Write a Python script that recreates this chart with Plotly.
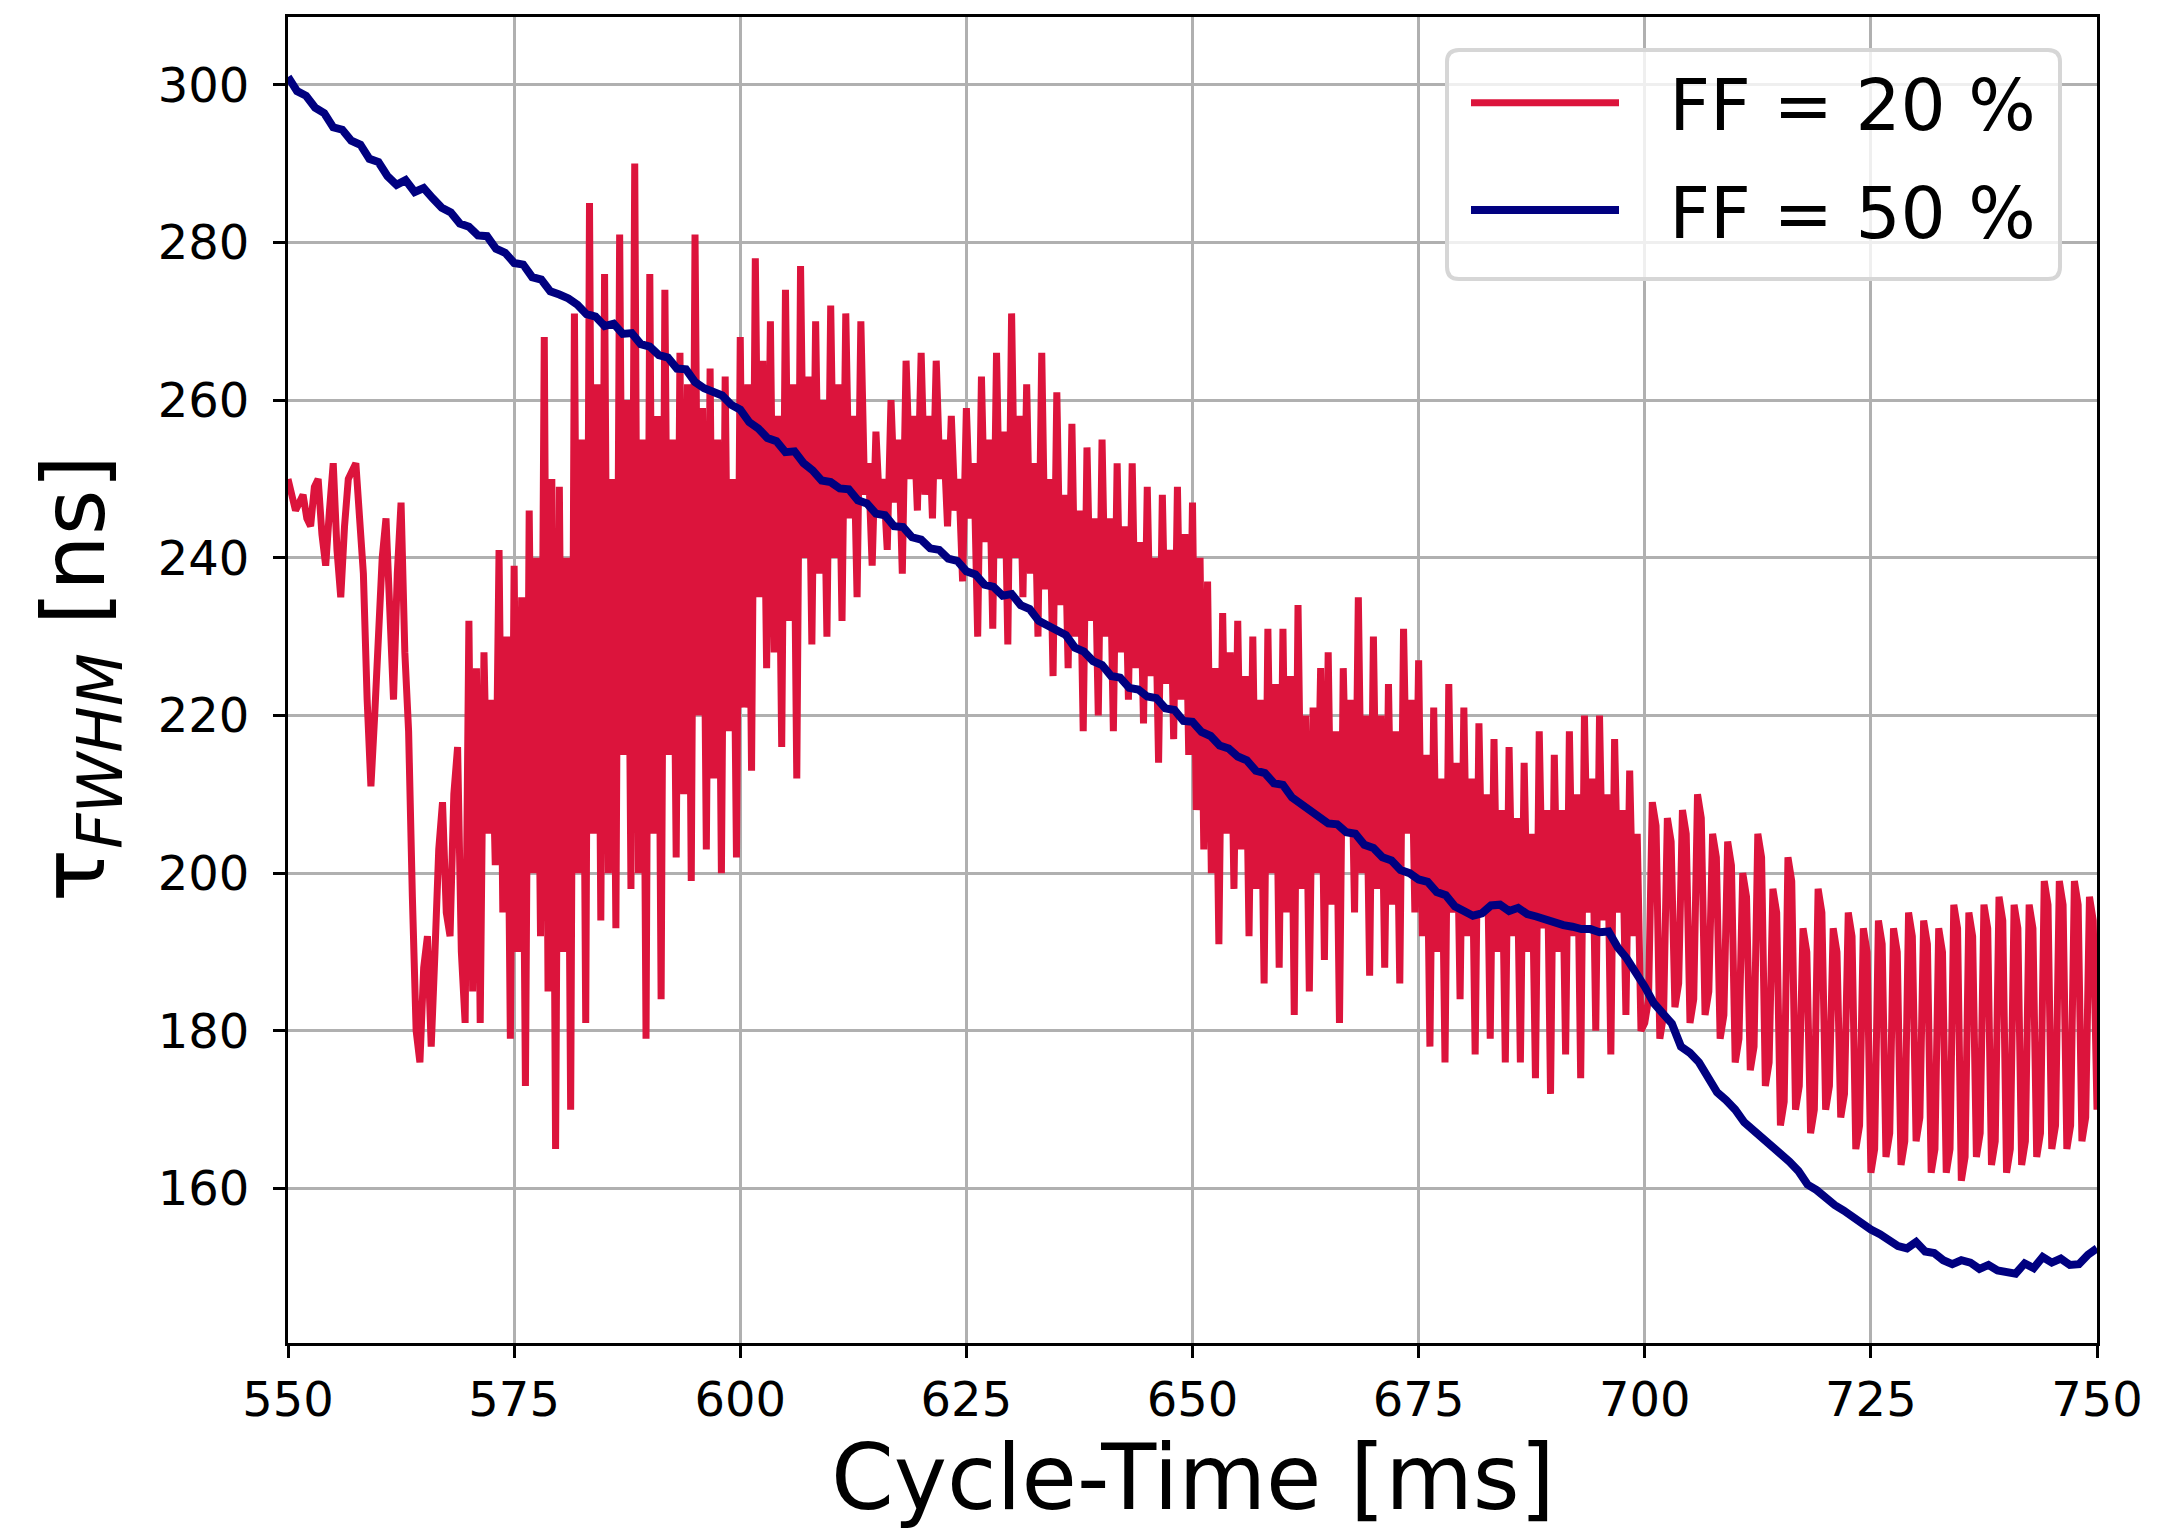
import numpy as np
import plotly.graph_objects as go

# FF = 50 % : one sample per ms, 550..750 ms
ff50_values = [
    301.0, 299.2, 298.6, 297.1, 296.4, 294.6, 294.3, 292.9, 292.4, 290.6,
    290.2, 288.4, 287.3, 287.9, 286.4, 286.9, 285.6, 284.4, 283.8, 282.4,
    282.0, 280.9, 280.8, 279.2, 278.7, 277.4, 277.2, 275.6, 275.3, 273.8,
    273.4, 272.9, 272.1, 270.9, 270.6, 269.4, 269.7, 268.4, 268.5, 267.1,
    266.8, 265.7, 265.4, 264.0, 263.9, 262.3, 261.5, 261.0, 260.6, 259.4,
    258.8, 257.2, 256.4, 255.2, 254.8, 253.4, 253.5, 252.0, 251.1, 249.8,
    249.6, 248.8, 248.7, 247.3, 246.9, 245.6, 245.4, 244.0, 243.9, 242.6,
    242.3, 241.2, 241.0, 239.9, 239.6, 238.3, 237.9, 236.6, 236.3, 235.2,
    235.4, 234.0, 233.5, 232.0, 231.4, 230.6, 230.2, 228.6, 228.1, 226.9,
    226.4, 225.0, 224.8, 223.5, 223.3, 222.4, 222.2, 220.9, 220.7, 219.3,
    219.2, 217.9, 217.4, 216.2, 215.8, 214.8, 214.3, 213.0, 212.7, 211.4,
    211.2, 209.6, 208.8, 207.9, 207.2, 206.3, 206.2, 205.2, 205.0, 203.6,
    203.2, 202.0, 201.6, 200.4, 200.0, 199.2, 198.9, 197.6, 197.2, 195.8,
    195.2, 194.6, 194.9, 195.9, 196.0, 195.2, 195.6, 194.8, 194.5, 194.1,
    193.9, 193.4, 193.2, 192.9, 192.9, 192.5, 192.6, 190.6, 189.2, 187.6,
    185.6, 183.5, 182.1, 180.9, 178.0, 177.2, 176.0, 174.3, 172.2, 171.2,
    170.0, 168.4, 167.4, 166.6, 165.4, 164.4, 163.4, 162.2, 160.5, 159.8,
    158.8, 157.9, 157.2, 156.4, 155.4, 154.8, 154.2, 153.4, 152.7, 152.4,
    153.2, 152.0, 151.8, 150.9, 150.4, 150.9, 150.6, 149.8, 150.3, 149.6,
    149.5, 149.2, 150.5, 149.9, 151.3, 150.6, 151.1, 150.3, 150.4, 151.6,
    152.4,
]

# FF = 20 % : 24 samples per 10 ms, 550..750 ms
ff20_values = [
    250, 248, 246, 247, 248, 245, 244, 249, 250, 243, 239, 246, 252, 241, 235, 244, 250, 251, 252, 245, 238, 222, 211, 220,
    233, 240, 245, 230, 222, 238, 247, 228, 218, 197, 180, 176, 188, 192, 178, 190, 203, 209, 195, 192, 210, 216, 190, 181,
    232, 185, 226, 181, 228, 205, 222, 201, 241, 195, 230, 179, 239, 190, 235, 173, 246, 200, 240, 192, 268, 185, 250, 165,
    249, 190, 240, 170, 271, 200, 255, 181, 285, 205, 262, 194, 276, 200, 250, 193, 281, 215, 260, 198, 290, 200, 255, 179,
    276, 205, 258, 184, 274, 215, 255, 202, 266, 210, 262, 199, 281, 220, 259, 203, 264, 212, 255, 200, 263, 218, 250, 202,
    268, 221, 262, 213, 278, 235, 265, 226, 270, 228, 258, 216, 274, 232, 262, 212, 277, 240, 263, 229, 270, 238, 260, 230,
    272, 240, 262, 232, 271, 245, 258, 235, 270, 248, 252, 239, 256, 246, 250, 241, 260, 247, 255, 238, 265, 250, 258, 246,
    266, 248, 258, 245, 265, 250, 255, 244, 258, 246, 250, 237, 259, 245, 252, 230, 263, 242, 255, 231, 266, 240, 256, 229,
    271, 240, 258, 235, 262, 238, 252, 230, 266, 236, 250, 225, 261, 234, 248, 226, 257, 230, 246, 218, 254, 232, 245, 220,
    255, 230, 245, 218, 252, 228, 244, 222, 252, 226, 242, 219, 249, 225, 240, 214, 248, 224, 241, 217, 249, 222, 243, 215,
    247, 208, 240, 203, 237, 200, 226, 191, 233, 205, 228, 198, 232, 203, 225, 192, 230, 198, 222, 186, 231, 200, 224, 188,
    231, 195, 225, 182, 234, 198, 220, 185, 221, 200, 226, 189, 228, 196, 218, 181, 226, 205, 222, 195, 235, 200, 220, 187,
    230, 198, 220, 188, 224, 196, 218, 186, 231, 205, 222, 195, 227, 192, 215, 178, 221, 190, 212, 176, 224, 195, 214, 184,
    221, 192, 212, 177, 219, 195, 210, 179, 217, 190, 208, 176, 216, 192, 207, 176, 214, 190, 205, 174, 218, 193, 208, 172,
    215, 190, 208, 177, 218, 192, 210, 174, 220, 195, 212, 180, 220, 194, 210, 177, 217, 195, 208, 182, 213, 192, 205, 180,
    181, 184, 209, 206, 179, 182, 207, 204, 183, 186, 208, 205, 181, 184, 210, 207, 182, 185, 205, 202, 179, 182, 204, 201,
    176, 179, 200, 197, 175, 178, 205, 202, 173, 176, 198, 195, 168, 171, 202, 199, 170, 173, 193, 190, 167, 170, 198, 195,
    170, 173, 193, 190, 169, 172, 195, 192, 165, 168, 193, 190, 162, 165, 194, 191, 164, 167, 193, 190, 163, 166, 195, 192,
    166, 169, 194, 191, 162, 165, 193, 190, 162, 165, 196, 193, 161, 164, 195, 192, 164, 167, 196, 193, 163, 166, 197, 194,
    162, 165, 196, 193, 163, 166, 196, 193, 164, 167, 199, 196, 165, 168, 199, 196, 165, 168, 199, 196, 166, 169, 197, 194,
    170,
]

x_ticks = [550, 575, 600, 625, 650, 675, 700, 725, 750]
y_ticks = [160, 180, 200, 220, 240, 260, 280, 300]

t50 = np.linspace(550, 750, len(ff50_values))
t20 = np.linspace(550, 750, len(ff20_values))

RED = "#DC143C"
NAVY = "#000080"
FONT = "DejaVu Sans"
NB = "\u00a0"

W, H = 2182, 1530
ML, MR, MT, MB = 288, 85, 17, 187
PW, PH = W - ML - MR, H - MT - MB


def px_x(p):
    return (p - ML) / PW


def px_y(p):
    return (H - MB - p) / PH


fig = go.Figure()
fig.add_trace(go.Scatter(x=t20, y=ff20_values, mode="lines", name=NB * 2 + "FF = 20 %",
                         legendgroup="a", line=dict(color=RED, width=7)))
fig.add_trace(go.Scatter(x=t50, y=ff50_values, mode="lines", name=NB * 2 + "FF = 50 %",
                         legendgroup="b", line=dict(color=NAVY, width=8)))

axis_common = dict(
    showline=True, linecolor="black", linewidth=3, mirror=True,
    showgrid=True, gridcolor="#b0b0b0", gridwidth=2.5,
    ticks="outside", ticklen=12, tickwidth=2.5, tickcolor="black",
    tickfont=dict(family=FONT, size=48, color="black"),
    zeroline=False, automargin=False,
)

# legend frame (rounded box) in pixel positions converted to paper units
bx0, bx1, by0, by1, r = 1447, 2060, 50, 279, 12
x0, x1 = px_x(bx0), px_x(bx1)
y0, y1 = px_y(by1), px_y(by0)
rx, ry = r / PW, r / PH
box_path = (
    f"M {x0 + rx},{y1} L {x1 - rx},{y1} Q {x1},{y1} {x1},{y1 - ry} "
    f"L {x1},{y0 + ry} Q {x1},{y0} {x1 - rx},{y0} L {x0 + rx},{y0} "
    f"Q {x0},{y0} {x0},{y0 + ry} L {x0},{y1 - ry} Q {x0},{y1} {x0 + rx},{y1} Z"
)

fig.update_layout(
    width=W, height=H,
    paper_bgcolor="white", plot_bgcolor="white",
    margin=dict(l=ML, r=MR, t=MT, b=MB),
    font=dict(family=FONT, color="black"),
    xaxis=dict(range=[550, 750], tickvals=x_ticks, ticklabelstandoff=0, **axis_common),
    yaxis=dict(range=[140.4, 308.6], tickvals=y_ticks, ticklabelstandoff=14, **axis_common),
    legend=dict(
        x=px_x(1466), y=px_y(50), xanchor="left", yanchor="top",
        bgcolor="rgba(0,0,0,0)", borderwidth=0,
        font=dict(family=FONT, size=71, color="black"),
        itemwidth=148, tracegroupgap=12,
    ),
    showlegend=True,
    shapes=[dict(type="path", path=box_path, xref="paper", yref="paper", layer="above",
                 fillcolor="rgba(255,255,255,0.8)", line=dict(color="#d6d6d6", width=4))],
    annotations=[
        dict(text="Cycle-Time [ms]", xref="paper", yref="paper", x=0.5, y=px_y(1477),
             xanchor="center", yanchor="middle", showarrow=False,
             font=dict(family=FONT, size=90, color="black")),
        dict(text="τ<sub><i>FWHM</i></sub> [ns]", xref="paper", yref="paper",
             x=px_x(79), y=px_y(679), xanchor="center", yanchor="middle", showarrow=False,
             textangle=-90, font=dict(family=FONT, size=88, color="black")),
    ],
)

fig.write_html(
    "out.html",
    config={"displayModeBar": False},
    post_script="document.body.style.margin='0';document.body.style.padding='0';"
                "document.documentElement.style.overflow='hidden';",
)
